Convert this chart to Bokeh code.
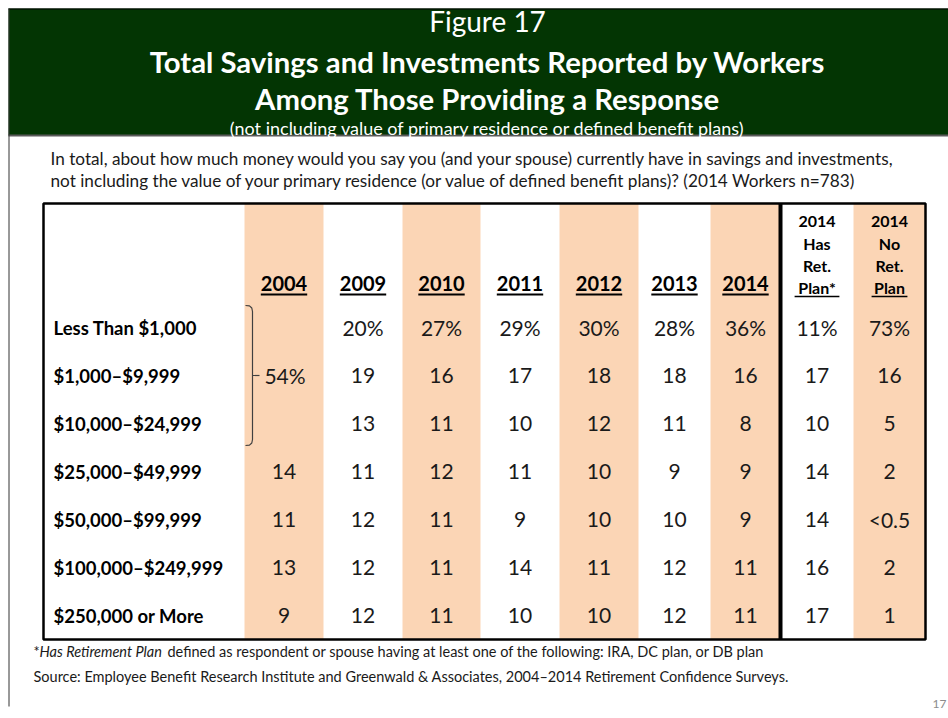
from bokeh.plotting import figure
from bokeh.models import Range1d
from bokeh.embed import file_html
from bokeh.resources import INLINE
from bokeh.core.properties import value

# ---------------- data ----------------
fig_label = "Figure 17"
title_lines = ["Total Savings and Investments Reported by Workers",
               "Among Those Providing a Response"]
subtitle = "(not including value of primary residence or defined benefit plans)"
question = ["In total, about how much money would you say you (and your spouse) currently have in savings and investments,",
            "not including the value of your primary residence (or value of defined benefit plans)? (2014 Workers n=783)"]
categories = ["Less Than $1,000", "$1,000\u2013$9,999", "$10,000\u2013$24,999",
              "$25,000\u2013$49,999", "$50,000\u2013$99,999", "$100,000\u2013$249,999",
              "$250,000 or More"]
years = ["2004", "2009", "2010", "2011", "2012", "2013", "2014"]
v2004_first_three = 54
v2004 = [None, None, None, 14, 11, 13, 9]
v2009 = [20, 19, 13, 11, 12, 12, 12]
v2010 = [27, 16, 11, 12, 11, 11, 11]
v2011 = [29, 17, 10, 11, 9, 14, 10]
v2012 = [30, 18, 12, 10, 10, 11, 10]
v2013 = [28, 18, 11, 9, 10, 12, 12]
v2014 = [36, 16, 8, 9, 9, 11, 11]
has_plan = [11, 17, 10, 14, 14, 16, 17]
no_plan = [73, 16, 5, 2, "<0.5", 2, 1]
plan_headers = [["2014", "Has", "Ret.", "Plan*"], ["2014", "No", "Ret.", "Plan"]]
footnote_mark = "*"
footnote_italic = "Has Retirement Plan"
footnote_rest = "defined as respondent or spouse having at least one of the following: IRA, DC plan, or DB plan"
source = "Source:  Employee Benefit Research Institute and Greenwald & Associates, 2004\u20132014 Retirement Confidence Surveys."
page_no = "17"

# ---------------- layout ----------------
FONT = "Lato"
W, H = 948, 718
GREEN = "#033503"
PEACH = "#FBD5B5"
TXT = "#1a1a1a"

p = figure(width=W, height=H, output_backend="svg", toolbar_location=None,
           x_range=Range1d(0, W), y_range=Range1d(H, 0),
           min_border=0, outline_line_color=None, background_fill_color="white")
p.axis.visible = False
p.grid.visible = False

# header band
p.quad(left=[8], right=[W], top=[8], bottom=[135], fill_color=GREEN, line_color=None)
p.segment(x0=[8], x1=[W], y0=[135], y1=[135], line_color="#5a5a5a", line_width=2)
p.segment(x0=[8], x1=[W], y0=[8.5], y1=[8.5], line_color="#000000", line_width=1)
p.segment(x0=[8.5], x1=[8.5], y0=[8], y1=[706], line_color="#333333", line_width=1)

cx = 487
p.text(x=[cx], y=[20], text=[fig_label], text_align="center", text_baseline="middle",
       text_font=value(FONT), text_font_size="28px", text_color="white")
p.text(x=[cx, cx], y=[61, 98], text=title_lines, text_align="center", text_baseline="middle",
       text_font=value(FONT), text_font_size="29.3px", text_font_style="bold", text_color="white")
p.text(x=[cx], y=[127], text=[subtitle], text_align="center", text_baseline="middle",
       text_font=value(FONT), text_font_size="18px", text_color="white")

# question
p.text(x=[50, 50], y=[158, 180], text=question, text_align="left", text_baseline="middle",
       text_font=value(FONT), text_font_size="17.2px", text_color=TXT)

# table geometry
T_L, T_R, T_T, T_B = 43, 925, 203, 639
edges = [244, 323, 402, 480, 559, 638, 710, 780, 853, 925]
shaded = [0, 2, 4, 6, 8]
row_y0, row_dy = 327, 48
rows_y = [row_y0 + i * row_dy for i in range(len(categories))]
centers = [(edges[i] + edges[i + 1]) / 2 for i in range(len(edges) - 1)]

p.quad(left=[edges[i] for i in shaded], right=[edges[i + 1] for i in shaded],
       top=[T_T] * len(shaded), bottom=[T_B] * len(shaded), fill_color=PEACH, line_color=None)
p.quad(left=[T_L], right=[T_R], top=[T_T], bottom=[T_B], fill_alpha=0,
       line_color="black", line_width=2.5)
p.segment(x0=[edges[7]], x1=[edges[7]], y0=[T_T], y1=[T_B], line_color="black", line_width=4)

# year headers (bold, underlined)
hy = 283
p.text(x=centers[:7], y=[hy] * 7, text=years, text_align="center", text_baseline="middle",
       text_font=value(FONT), text_font_size="20px", text_font_style="bold", text_color="black")
uw = [len(s) * 0.58 * 20 for s in years]
p.segment(x0=[c - w / 2 for c, w in zip(centers[:7], uw)], x1=[c + w / 2 for c, w in zip(centers[:7], uw)],
          y0=[294] * 7, y1=[294] * 7, line_color="black", line_width=2)

# plan headers
ph_y = [221, 243, 265, 287]
for ci, lines in zip([7, 8], plan_headers):
    p.text(x=[centers[ci]] * 4, y=ph_y, text=lines, text_align="center", text_baseline="middle",
           text_font=value(FONT), text_font_size="16px", text_font_style="bold", text_color="black")
    w = len(lines[-1]) * 0.56 * 16
    p.segment(x0=[centers[ci] - w / 2], x1=[centers[ci] + w / 2], y0=[296], y1=[296],
              line_color="black", line_width=1.5)

# row labels
p.text(x=[53] * len(categories), y=rows_y, text=categories, text_align="left", text_baseline="middle",
       text_font=value(FONT), text_font_size="18.5px", text_font_style="bold", text_color="black")

# values
def fmt(v, i):
    if v is None:
        return ""
    s = str(v)
    return s + "%" if i == 0 else s

series = [v2004, v2009, v2010, v2011, v2012, v2013, v2014, has_plan, no_plan]
xs, ys, ts = [], [], []
for ci, ser in enumerate(series):
    for i, v in enumerate(ser):
        t = fmt(v, i)
        if t:
            xs.append(centers[ci]); ys.append(rows_y[i]); ts.append(t)
p.text(x=xs, y=ys, text=ts, text_align="center", text_baseline="middle",
       text_font=value(FONT), text_font_size="21px", text_color=TXT)

# 2004 combined value with bracket
p.text(x=[centers[0] + 1], y=[rows_y[1]], text=[f"{v2004_first_three}%"], text_align="center",
       text_baseline="middle", text_font=value(FONT), text_font_size="21px", text_color=TXT)
bx = edges[0] + 8
bt, bb = rows_y[0] - 22, rows_y[2] + 22
p.line(x=[bx - 7, bx - 3, bx - 0.7, bx, bx, bx - 0.7, bx - 3, bx - 7],
       y=[bt, bt + 0.4, bt + 2.5, bt + 6, bb - 6, bb - 2.5, bb - 0.4, bb],
       line_color="#404040", line_width=1.2)
p.segment(x0=[bx], x1=[bx + 7], y0=[rows_y[1]], y1=[rows_y[1]], line_color="#404040", line_width=1.2)

# footnotes
fy = 651
p.text(x=[33], y=[fy], text=[footnote_mark], text_align="left", text_baseline="middle",
       text_font=value(FONT), text_font_size="14.5px", text_color=TXT)
p.text(x=[39], y=[fy], text=[footnote_italic], text_align="left", text_baseline="middle",
       text_font=value(FONT), text_font_size="14.5px", text_font_style="italic", text_color=TXT)
p.text(x=[167], y=[fy], text=[footnote_rest], text_align="left", text_baseline="middle",
       text_font=value(FONT), text_font_size="14.5px", text_color=TXT)
p.text(x=[33], y=[676], text=[source], text_align="left", text_baseline="middle",
       text_font=value(FONT), text_font_size="14.5px", text_color=TXT)
p.text(x=[946], y=[703], text=[page_no], text_align="right", text_baseline="middle",
       text_font=value(FONT), text_font_size="12px", text_color="#8c8c8c")

open("out.html", "w").write(file_html(p, INLINE))
